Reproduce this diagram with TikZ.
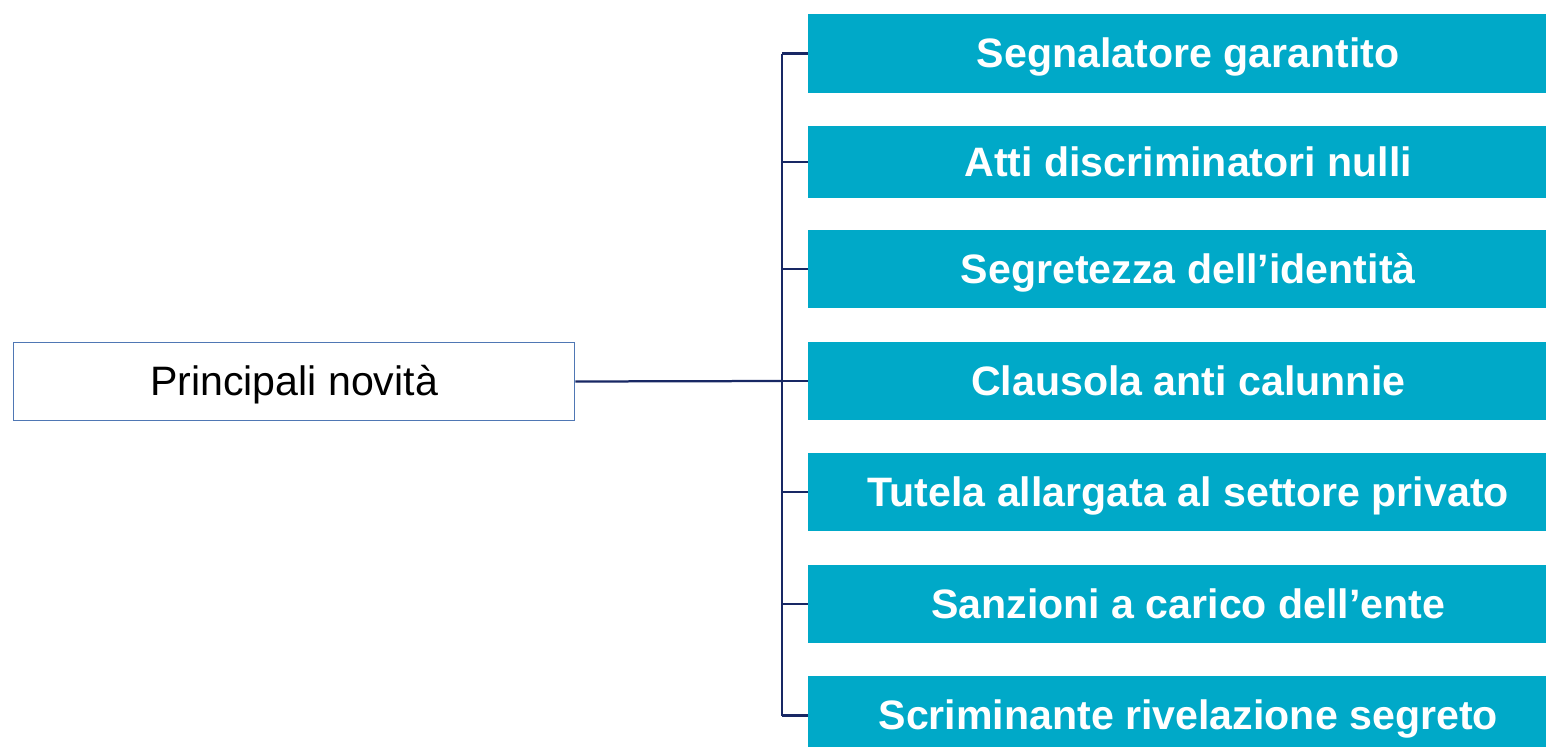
\documentclass[tikz,border=0pt]{standalone}
\usepackage{fontspec}
\setmainfont{Liberation Sans}
\usetikzlibrary{positioning}
\definecolor{tealbox}{RGB}{0,169,200}
\definecolor{navyline}{RGB}{24,40,100}
\definecolor{frameblue}{RGB}{79,119,180}
\tikzset{
  itembox/.style={fill=tealbox, text=white, font=\fontsize{23.4}{28}\selectfont\bfseries,
    text height=21.2pt, text depth=5pt,
    minimum width=15.2cm, minimum height=1.58cm, inner sep=0pt, anchor=west},
  rootbox/.style={draw=frameblue, line width=0.02cm, fill=white, font=\fontsize{23.4}{28}\selectfont,
    text height=21.2pt, text depth=5pt,
    minimum width=11.24cm, minimum height=1.58cm, inner sep=0pt},
  branch/.style={draw=navyline, line width=0.045cm}
}
\begin{document}
\begin{tikzpicture}[x=0.02cm,y=-0.02cm]
                    \useasboundingbox (0,0) rectangle (1546,747);
                    
                    % Drawing root box
                    \node [rootbox] (root) at (294,381.5) {Principali novità};%
                    
                    % Drawing item boxes
                    \node [itembox] (s1) at (808,53.5) {Segnalatore garantito};%
                    \node [itembox, minimum height=1.44cm] (s2) at (808,162) {Atti discriminatori nulli};%
                    \node [itembox] (s3) at (808,269) {Segretezza dell’identità};%
                    \node [itembox] (s4) at (808,381) {Clausola anti calunnie};%
                    \node [itembox] (s5) at (808,492) {Tutela allargata al settore privato};%
                    \node [itembox] (s6) at (808,604) {Sanzioni a carico dell’ente};%
                    \node [itembox] (s7) at (808,715.5) {Scriminante rivelazione segreto};%
                    
                    % Drawing trunk and branches
                    \coordinate (trunk) at (782,381);%
                    \draw [branch] (root.east) -- (trunk);%
                    \draw [branch] (trunk |- s1.west) -- (trunk |- s7.west);%
                    \foreach \i in {1,...,7}
                      \draw [branch] (trunk |- s\i.west) -- (s\i.west);%
\end{tikzpicture}
\end{document}
